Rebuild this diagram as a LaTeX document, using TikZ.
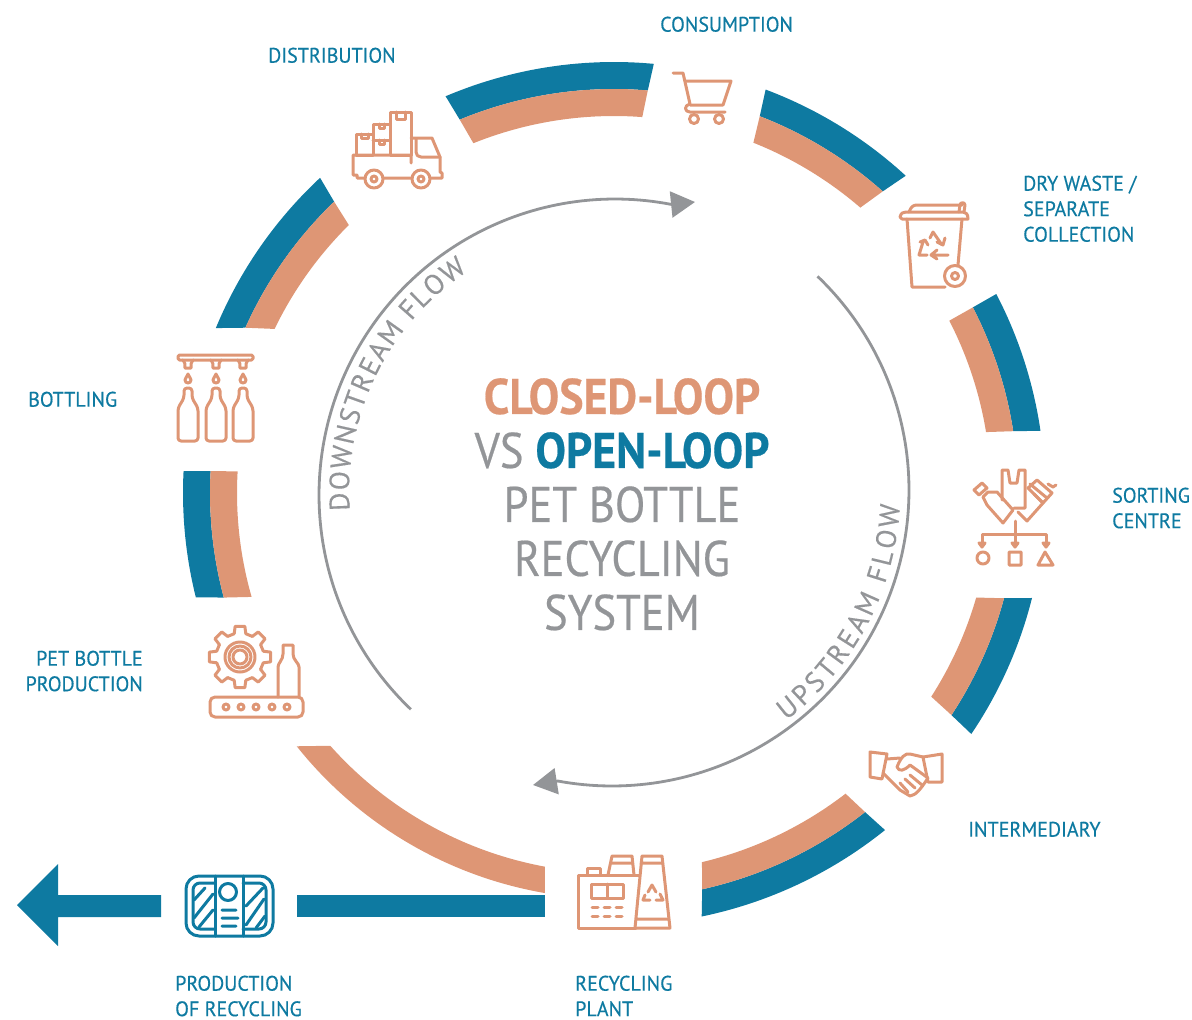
\documentclass[tikz,border=0pt]{standalone}
\usepackage{fontspec}
\usetikzlibrary{decorations.text,arrows.meta}
\setmainfont{PT Sans}
\newfontfamily\labf[FakeStretch=0.955,FakeBold=0.4]{PT Sans}
\newfontfamily\titlef[FakeStretch=0.89,FakeBold=0.4,BoldFeatures={FakeStretch=0.915,FakeBold=0.4}]{PT Sans}
\newfontfamily\flowf[FakeBold=0.3]{PT Sans}
\definecolor{cblue}{HTML}{0E7AA1}
\definecolor{corange}{HTML}{DE9675}
\definecolor{cgrey}{HTML}{939598}
\newcommand{\rO}{431}\newcommand{\rM}{404}\newcommand{\rI}{377}
\newcommand{\ringseg}[4]{%
 \pgfmathsetmacro\mone{(#1+#3)/2}\pgfmathsetmacro\mtwo{(#2+#4)/2}%
 \fill[cblue] plot[domain=#1:#2,samples=70] ({614+\rO*cos(\x)},{493+\rO*sin(\x)}) -- plot[domain=\mtwo:\mone,samples=70] ({614+\rM*cos(\x)},{493+\rM*sin(\x)}) -- cycle;
 \fill[corange] plot[domain=\mone:\mtwo,samples=70] ({614+\rM*cos(\x)},{493+\rM*sin(\x)}) -- plot[domain=#4:#3,samples=70] ({614+\rI*cos(\x)},{493+\rI*sin(\x)}) -- cycle;
}
\tikzset{
 icon/.style={draw=corange,line width=3pt,line join=round,line cap=round},
 iconb/.style={draw=cblue,line width=3pt,line join=round,line cap=round},
 lab/.style={text=cblue,inner sep=0pt,font=\labf\fontsize{21}{25.5}\selectfont,align=left},
 flow/.style={draw=cgrey,line width=2.8pt},
}
\begin{document}
\begin{tikzpicture}[x=1pt,y=-1pt]
\useasboundingbox (0,0) rectangle (1192,1020);
% ring
\ringseg{-113}{-84.7}{-111.9}{-85.7}
\ringseg{-69.4}{-47.4}{-68.3}{-49.2}
\ringseg{-27.5}{-8.3}{-27.2}{-9.3}
\ringseg{14.1}{34}{16.1}{32.7}
\ringseg{166}{182.9}{164}{183.3}
\ringseg{202.5}{227}{205.8}{225.3}
\renewcommand{\rO}{432.5}\renewcommand{\rM}{406}\renewcommand{\rI}{379.5}
\ringseg{51.2}{78.3}{52.4}{76.6}
\fill[corange] plot[domain=99.8:141.4,samples=70] ({614+406*cos(\x)},{493+406*sin(\x)}) -- plot[domain=138.3:100.5,samples=70] ({614+380*cos(\x)},{493+380*sin(\x)}) -- cycle;
\fill[cblue] (297,895) rectangle (545,917);
\fill[cblue] (161,895) -- (58,895) -- (58,864) -- (17,905) -- (58,946) -- (58,917) -- (161,917) -- cycle;
% flows
\draw[flow,-{Triangle[length=24pt,width=26pt]},cgrey] plot[domain=133.6:281,samples=120] ({615+296*cos(\x)},{495+296*sin(\x)}) -- (695,202);
\draw[flow,-{Triangle[length=24pt,width=26pt]},cgrey] plot[domain=-46.2:100.5,samples=120] ({612+297*cos(\x)},{490+296*sin(\x)}) -- (533,785);
\path[decorate,decoration={text along path,text color=cgrey,text align={fit to path},text={|\flowf\fontsize{28}{28}\selectfont|DOWNSTREAM FLOW}}] plot[domain=176:236.5,samples=80] ({614+265*cos(\x)},{492+265*sin(\x)});
\path[decorate,decoration={text along path,text color=cgrey,text align={fit to path},text={|\flowf\fontsize{28}{28}\selectfont|UPSTREAM FLOW}}] plot[domain=53:2.6,samples=80] ({614+286*cos(\x)},{492+286*sin(\x)});
% centre
\node[inner sep=0pt,align=center,anchor=north,text=cgrey,font=\titlef\fontsize{50}{54}\selectfont] (title) at (622,378) {\textcolor{corange}{\bfseries CLOSED-LOOP}\\VS \textcolor{cblue}{\bfseries OPEN-LOOP}\\PET BOTTLE\\RECYCLING\\SYSTEM};
% labels
\node[lab,anchor=north west] (l1) at (660,16.5) {CONSUMPTION};
\node[lab,anchor=north west] (l2) at (268,47.5) {DISTRIBUTION};
\node[lab,anchor=north west] (l3) at (1023,175.5) {DRY WASTE /\\SEPARATE\\COLLECTION};
\node[lab,anchor=north west] (l4) at (1112,487.5) {SORTING\\CENTRE};
\node[lab,anchor=north west] (l5) at (968,821.5) {INTERMEDIARY};
\node[lab,anchor=north west] (l6) at (575,975.5) {RECYCLING\\PLANT};
\node[lab,anchor=north west] (l7) at (175,975.5) {PRODUCTION\\OF RECYCLING};
\node[lab,anchor=north east,align=right] (l8) at (143,650.5) {PET BOTTLE\\PRODUCTION};
\node[lab,anchor=north west] (l9) at (28,391.5) {BOTTLING};
% truck
\draw[icon] (390,155) rectangle (411,112) (396,112) -- (396,119) -- (405,119) -- (405,112);
\draw[icon] (373,155) -- (373,124) -- (390,124) (373,140) -- (390,140);
\draw[icon] (379,124) -- (379,128) -- (384,128) -- (384,124) (379,140) -- (379,144) -- (384,144) -- (384,140);
\draw[icon] (373,155) -- (356,155) (356,155) -- (356,134) -- (373,134) (361,134) -- (361,138) -- (368,138) -- (368,134);
\draw[icon] (411,155) -- (353,155) -- (353,175) -- (357,175) -- (357,178) -- (365,178) (383,178) -- (412,178) (430,178) -- (442,178) -- (442,173) -- (440,172) -- (440,157) -- (432,138) -- (411,138) (411,155) -- (411,163);
\draw[icon] (416,139) -- (416,152) .. controls (416,155) and (418,157) .. (421,157) -- (440,157);
\draw[icon] (374,179) circle (9) (374,179) circle (3) (421,179) circle (9) (421,179) circle (3);
% cart
\draw[icon] (673,73) -- (683,73) -- (690,104) .. controls (684,105) and (684,112) .. (690,112) -- (725,112);
\draw[icon] (685,81) -- (731,81) -- (723,105) -- (690,105);
\draw[icon] (694,119) circle (4.5) (719,119) circle (4.5);
% bin
\draw[icon] (902,219) -- (900,217) .. controls (901,213) and (903,212) .. (906,212) -- (963,212) .. controls (966,212) and (968,214) .. (968,219) -- cycle;
\draw[icon] (909,212) .. controls (911,207) and (913,205) .. (917,205) -- (962,205);
\draw[icon] (959,212) -- (960,205) .. controls (960,202) and (965,202) .. (965,205) -- (964,212);
\draw[icon] (907,219) -- (912,287) -- (945,287) (962,219) -- (958,265);
\draw[icon] (955,276) circle (10.5) (955,276) circle (3.5);
\draw[icon] (930,238) -- (933,232) -- (942,245) (945,238) -- (943,245) -- (937,242);
\draw[icon] (923,242) -- (919,255) -- (927,255) (920,242) -- (925,240) -- (928,245);
\draw[icon] (931,255) -- (948,255) (937,250) -- (931,255) -- (937,259);
% sorting
\draw[icon] (1002,500) -- (1002,470) -- (1008,470) -- (1010,483) -- (1017,483) -- (1019,470) -- (1025,470) -- (1025,508) -- (1014,508);
\draw[icon] (974,490) -- (982,483) -- (987,488) -- (979,495) -- cycle;
\draw[icon] (983,497) -- (988,492) -- (997,492) -- (1013,510) -- (1003,523) -- (987,505) -- cycle;
\draw[icon] (1028,488) -- (1037,480) -- (1052,493) -- (1043,503) -- cycle;
\draw[icon] (1030,484) -- (1047,498) (1034,494) -- (1043,503) -- (1027,521) -- (1018,512) (1048,484) -- (1053,487) -- (1056,485);
\draw[icon] (1015,521) -- (1015,545) (982,545) -- (982,534) -- (1046,534) -- (1046,545);
\draw[icon,fill=corange] (979,543) -- (985,543) -- (982,547) -- cycle (1012,543) -- (1018,543) -- (1015,547) -- cycle (1043,543) -- (1049,543) -- (1046,547) -- cycle;
\draw[icon] (983,558) circle (6) (1009,552) rectangle (1021,565) (1038,565) -- (1045,552) -- (1053,565) -- cycle;
% handshake
\draw[icon] (870,752) -- (887,754) -- (882,779) -- (870,777) -- cycle;
\draw[icon] (942,754) -- (923,757) -- (928,782) -- (942,782) -- cycle;
\draw[icon] (887,759) -- (900,758) (923,757) -- (910,754) .. controls (905,753) and (901,757) .. (897,767) .. controls (899,772) and (904,771) .. (910,765) -- (928,778);
\draw[icon] (883,773) -- (900,790) -- (910,796) .. controls (916,795) and (920,790) .. (928,778);
\draw[icon] (900,783) -- (908,792) (905,779) -- (915,788) (910,775) -- (922,785);
% plant
\draw[icon] (636,928) -- (578,928) -- (578,875) -- (639,875) (587,875) -- (587,868) -- (600,868) -- (600,875);
\draw[icon] (608,875) -- (612,856) -- (632,856) -- (634,875) (611,863) -- (632,863);
\draw[icon] (635,928) -- (642,856) -- (662,856) -- (670,928) -- cycle (641,863) -- (663,863) (637,919) -- (668,919);
\draw[icon] (591,884) rectangle (623,898) (607,884) -- (607,898);
\draw[icon] (592,907) -- (598,907) (604,907) -- (610,907) (616,907) -- (622,907) (592,916) -- (598,916) (604,916) -- (610,916) (616,916) -- (622,916);
\draw[icon] (648,892) -- (652,885) -- (656,892) (645,895) -- (643,900) -- (650,900) (656,900) -- (663,900) -- (660,894);
% production
\draw[iconb,rounded corners=13pt] (215,876) -- (186,876) -- (186,936) -- (273,936) -- (273,876) -- cycle;
\draw[iconb,rounded corners=7pt] (215,883) -- (193,883) -- (193,929) -- (215,929) (243,883) -- (266,883) -- (266,929) -- (243,929);
\draw[iconb] (215,876) -- (215,936) (243,876) -- (243,936);
\draw[iconb] (228,892) circle (8.5) (222,910) -- (236,910) (222,918) -- (238,918) (222,926) -- (236,926);
\draw[iconb] (194,900) -- (205,888) (194,918) -- (213,894) (199,927) -- (213,910);
\draw[iconb] (246,906) -- (263,888) (246,925) -- (264,899) (256,928) -- (265,916);
% gear
\foreach \a in {0,45,...,315}{
 \draw[icon] ({240+24*cos(\a-14)},{657+24*sin(\a-14)}) -- ({240+31*cos(\a-9)},{657+31*sin(\a-9)}) -- ({240+31*cos(\a+9)},{657+31*sin(\a+9)}) -- ({240+24*cos(\a+14)},{657+24*sin(\a+14)}) -- ({240+24*cos(\a+31)},{657+24*sin(\a+31)});
}
\draw[icon] (240,657) circle (15) (240,657) circle (11) (240,657) circle (7);
\draw[icon,rounded corners=5pt] (210,697) rectangle (303,717);
\draw[icon] (226,707) circle (3) (241,707) circle (3) (256,707) circle (3) (272,707) circle (3) (287,707) circle (3);
\draw[icon] (278,697) -- (278,667) .. controls (278,663) and (283,660) .. (283,654) -- (283,645) -- (293,645) -- (293,654) .. controls (293,660) and (299,663) .. (299,667) -- (299,697);
% bottling
\draw[icon,rounded corners=1.5pt] (178,355) rectangle (253,360);
\foreach \c in {188,216,243}{
 \draw[icon] (\c-5,360) .. controls (\c-3,362) and (\c-3,364) .. (\c-3,368) -- (\c+3,368) .. controls (\c+3,364) and (\c+3,362) .. (\c+5,360);
 \draw[icon] (\c,374) .. controls (\c-2,378) and (\c-3,379) .. (\c-3,380) .. controls (\c-3,384) and (\c+3,384) .. (\c+3,380) .. controls (\c+3,379) and (\c+2,378) .. (\c,374);
 \draw[icon,rounded corners=3pt] (\c-4,388) -- (\c+4,388) -- (\c+4,398) -- (\c+10,408) -- (\c+10,441) -- (\c-10,441) -- (\c-10,408) -- (\c-4,398) -- cycle;
}
\end{tikzpicture}
\end{document}
